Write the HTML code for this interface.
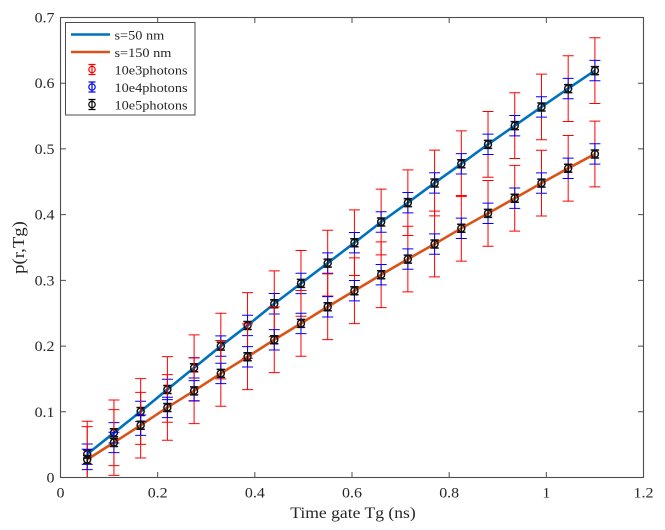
<!DOCTYPE html>
<html><head><meta charset="utf-8"><style>
html,body{margin:0;padding:0;background:#fff;}
svg{display:block;}
text{font-family:"Liberation Serif","Times New Roman",serif;fill:#262626;}
</style></head><body>
<svg width="665" height="530" viewBox="0 0 665 530" xmlns="http://www.w3.org/2000/svg" font-family="Liberation Serif, serif">
<defs>
<clipPath id="c"><rect x="60.5" y="17.5" width="583" height="460"/></clipPath>
<g id="m">
<path d="M0,-32.86V32.86M-5.5,-32.86H5.5M-5.5,32.86H5.5" stroke="#ff0000" stroke-width="1" fill="none"/>
<circle r="3.5" stroke="#ff0000" stroke-width="1" fill="none"/>
<path d="M0,-10.19V10.19M-5.5,-10.19H5.5M-5.5,10.19H5.5" stroke="#0000ff" stroke-width="1" fill="none"/>
<circle r="3.5" stroke="#0000ff" stroke-width="1" fill="none"/>
<path d="M0,-4V4M-4.2,-4H4.2M-4.2,4H4.2" stroke="#111" stroke-width="1.5" fill="none"/>
<circle r="3.5" stroke="#111" stroke-width="1.4" fill="none"/>
</g>
</defs>
<rect width="665" height="530" fill="#fff"/>
<g clip-path="url(#c)">
<polyline fill="none" stroke="#0072BD" stroke-width="2.6" stroke-linejoin="round" points="87.22,454.17 113.94,432.81 140.66,411.46 167.38,389.44 194.10,367.76 220.82,346.07 247.54,325.44 274.26,303.75 300.98,283.38 327.70,263.08 354.42,242.70 381.14,222.00 407.86,202.68 434.58,182.97 461.30,163.78 488.02,144.33 514.74,125.67 541.46,106.94 568.18,88.60 594.90,70.59"/>
<polyline fill="none" stroke="#D95319" stroke-width="2.6" stroke-linejoin="round" points="87.22,459.49 113.94,442.47 140.66,425.19 167.38,407.45 194.10,390.82 220.82,373.41 247.54,356.78 274.26,339.76 300.98,323.40 327.70,306.77 354.42,290.74 381.14,274.71 407.86,259.07 434.58,244.02 461.30,228.31 488.02,213.33 514.74,198.22 541.46,183.10 568.18,168.31 594.90,153.99"/>
<use href="#m" x="87.22" y="454.17"/>
<use href="#m" x="113.94" y="432.81"/>
<use href="#m" x="140.66" y="411.46"/>
<use href="#m" x="167.38" y="389.44"/>
<use href="#m" x="194.10" y="367.76"/>
<use href="#m" x="220.82" y="346.07"/>
<use href="#m" x="247.54" y="325.44"/>
<use href="#m" x="274.26" y="303.75"/>
<use href="#m" x="300.98" y="283.38"/>
<use href="#m" x="327.70" y="263.08"/>
<use href="#m" x="354.42" y="242.70"/>
<use href="#m" x="381.14" y="222.00"/>
<use href="#m" x="407.86" y="202.68"/>
<use href="#m" x="434.58" y="182.97"/>
<use href="#m" x="461.30" y="163.78"/>
<use href="#m" x="488.02" y="144.33"/>
<use href="#m" x="514.74" y="125.67"/>
<use href="#m" x="541.46" y="106.94"/>
<use href="#m" x="568.18" y="88.60"/>
<use href="#m" x="594.90" y="70.59"/>
<use href="#m" x="87.22" y="459.49"/>
<use href="#m" x="113.94" y="442.47"/>
<use href="#m" x="140.66" y="425.19"/>
<use href="#m" x="167.38" y="407.45"/>
<use href="#m" x="194.10" y="390.82"/>
<use href="#m" x="220.82" y="373.41"/>
<use href="#m" x="247.54" y="356.78"/>
<use href="#m" x="274.26" y="339.76"/>
<use href="#m" x="300.98" y="323.40"/>
<use href="#m" x="327.70" y="306.77"/>
<use href="#m" x="354.42" y="290.74"/>
<use href="#m" x="381.14" y="274.71"/>
<use href="#m" x="407.86" y="259.07"/>
<use href="#m" x="434.58" y="244.02"/>
<use href="#m" x="461.30" y="228.31"/>
<use href="#m" x="488.02" y="213.33"/>
<use href="#m" x="514.74" y="198.22"/>
<use href="#m" x="541.46" y="183.10"/>
<use href="#m" x="568.18" y="168.31"/>
<use href="#m" x="594.90" y="153.99"/>
</g>
<rect x="60.5" y="17.5" width="583" height="460" fill="none" stroke="#4d4d4d" stroke-width="1.1"/>
<path stroke="#4d4d4d" stroke-width="1" fill="none" d="M157.67,477.5V472 M254.83,477.5V472 M352,477.5V472 M449.17,477.5V472 M546.33,477.5V472 M157.67,17.5V23 M254.83,17.5V23 M352,17.5V23 M449.17,17.5V23 M546.33,17.5V23 M60.5,411.79H66 M60.5,346.07H66 M60.5,280.36H66 M60.5,214.64H66 M60.5,148.93H66 M60.5,83.21H66 M643.5,411.79H638 M643.5,346.07H638 M643.5,280.36H638 M643.5,214.64H638 M643.5,148.93H638 M643.5,83.21H638"/>
<g font-size="14.5" text-anchor="middle">
<text transform="translate(60.5,497.5) scale(1.1,1)">0</text>
<text transform="translate(157.67,497.5) scale(1.1,1)">0.2</text>
<text transform="translate(254.83,497.5) scale(1.1,1)">0.4</text>
<text transform="translate(352,497.5) scale(1.1,1)">0.6</text>
<text transform="translate(449.17,497.5) scale(1.1,1)">0.8</text>
<text transform="translate(546.33,497.5) scale(1.1,1)">1</text>
<text transform="translate(643.5,497.5) scale(1.1,1)">1.2</text>
</g>
<g font-size="14.5" text-anchor="end">
<text transform="translate(54.5,482.5) scale(1.1,1)">0</text>
<text transform="translate(54.5,416.8) scale(1.1,1)">0.1</text>
<text transform="translate(54.5,351.1) scale(1.1,1)">0.2</text>
<text transform="translate(54.5,285.4) scale(1.1,1)">0.3</text>
<text transform="translate(54.5,219.6) scale(1.1,1)">0.4</text>
<text transform="translate(54.5,153.9) scale(1.1,1)">0.5</text>
<text transform="translate(54.5,88.2) scale(1.1,1)">0.6</text>
<text transform="translate(54.5,22.5) scale(1.1,1)">0.7</text>
</g>
<text font-size="16" text-anchor="middle" transform="translate(353,518) scale(1.1,1)">Time gate Tg (ns)</text>
<text font-size="17" text-anchor="middle" transform="translate(24,247.5) rotate(-90) scale(1.1,1)">p(r,Tg)</text>
<rect x="65.5" y="22.5" width="129.5" height="92.5" fill="#fff" stroke="#4d4d4d" stroke-width="1"/>
<line x1="71" y1="34.5" x2="110" y2="34.5" stroke="#0072BD" stroke-width="2.6"/>
<line x1="71" y1="52" x2="110" y2="52" stroke="#D95319" stroke-width="2.6"/>
<g fill="none" stroke-width="1.2">
<path d="M92,64.5V74.5M88.5,64.5H95.5M88.5,74.5H95.5" stroke="#ff0000"/><circle cx="92" cy="69.5" r="3.2" stroke="#ff0000"/>
<path d="M92,82V92M88.5,82H95.5M88.5,92H95.5" stroke="#0000ff"/><circle cx="92" cy="87" r="3.2" stroke="#0000ff"/>
<path d="M92,99.5V109.5M88.5,99.5H95.5M88.5,109.5H95.5" stroke="#000"/><circle cx="92" cy="104.5" r="3.2" stroke="#000"/>
</g>
<g font-size="13">
<text transform="translate(114.5,39.5) scale(1.1,1)">s=50 nm</text>
<text transform="translate(114.5,57) scale(1.1,1)">s=150 nm</text>
<text transform="translate(114.5,74.5) scale(1.1,1)">10e3photons</text>
<text transform="translate(114.5,92) scale(1.1,1)">10e4photons</text>
<text transform="translate(114.5,109.5) scale(1.1,1)">10e5photons</text>
</g>
</svg>
</body></html>
